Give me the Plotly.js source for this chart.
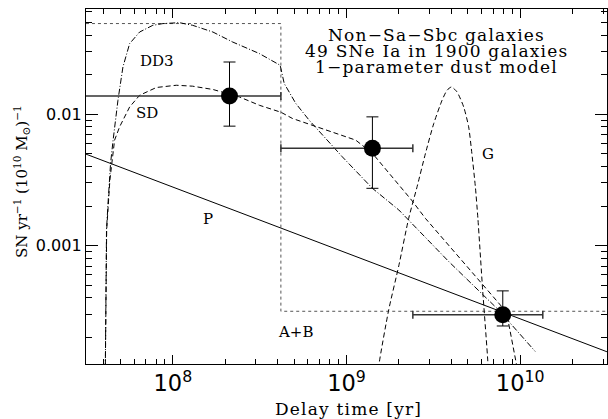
<!DOCTYPE html>
<html><head><meta charset="utf-8">
<script src="https://cdn.plot.ly/plotly-3.0.1.min.js"></script>
<style>body{margin:0;background:#fff}#chart{width:608px;height:419px}</style>
</head><body><div id="chart"></div>
<script>
// ---- data (delay time in yr, rate in SN/yr/1e10 Msun) ----
const boxX = [3.16e7, 4.19e8, 4.19e8, 3.2e10];
const boxY = [0.0489, 0.0489, 3.17e-4, 3.17e-4];

const pX = [3.16e7, 3.16e10];
const pY = [0.00497, 1.56e-4];

const sdX = [4.08e7, 4.11e7, 4.16e7, 4.34e7, 4.62e7, 4.94e7, 5.64e7, 6.44e7, 8.04e7, 1.047e8, 1.30e8, 1.70e8, 2.42e8, 3.15e8, 4.19e8, 4.89e8, 7.60e8, 1.13e9, 1.41e9, 2.37e9, 2.85e9, 7.83e9, 8.57e9, 9.91e9];
const sdY = [9.5e-5, 4.07e-4, 1.32e-3, 3.16e-3, 6.35e-3, 8.02e-3, 0.01135, 0.01393, 0.01596, 0.0166, 0.01633, 0.01542, 0.01352, 0.01169, 0.01035, 0.00927, 0.00757, 0.00635, 0.00504, 0.00222, 0.00161, 3.44e-4, 2.59e-4, 9.5e-5];

const dd3X = [4.08e7, 4.11e7, 4.15e7, 4.24e7, 4.38e7, 4.53e7, 4.83e7, 5.16e7, 5.64e7, 6.44e7, 7.67e7, 8.77e7, 1.09e8, 1.30e8, 1.70e8, 2.21e8, 3.15e8, 4.15e8, 4.38e8, 5.11e8, 6.10e8, 9.46e8, 1.41e9, 2.00e9, 3.88e9, 7.50e9, 1.22e10];
const dd3Y = [9.5e-5, 4.07e-4, 1.32e-3, 2.16e-3, 4.23e-3, 6.35e-3, 0.01276, 0.02286, 0.03443, 0.04217, 0.04742, 0.04887, 0.04966, 0.04742, 0.04217, 0.0354, 0.02891, 0.02355, 0.0171, 0.01205, 0.00899, 0.00474, 0.00273, 0.00187, 7.57e-4, 3.25e-4, 1.57e-4];

const gX = [1.52e9, 1.54e9, 1.75e9, 2.00e9, 2.28e9, 2.55e9, 2.85e9, 3.18e9, 3.55e9, 3.79e9, 4.02e9, 4.33e9, 4.73e9, 5.05e9, 5.27e9, 5.52e9, 5.71e9, 6.08e9, 6.52e9, 6.55e9];
const gY = [1.0e-4, 1.26e-4, 3.25e-4, 7.02e-4, 1.61e-3, 2.81e-3, 5.04e-3, 8.49e-3, 0.01276, 0.0152, 0.0161, 0.01476, 0.01135, 0.00802, 0.00504, 0.00281, 0.00161, 4.61e-4, 1.28e-4, 1.0e-4];

const obsX = [2.12e8, 1.41e9, 7.94e9];
const obsY = [0.01377, 0.0055, 2.98e-4];
const obsXlo = [1.0e7, 4.19e8, 2.41e9];
const obsXhi = [4.19e8, 2.41e9, 1.35e10];
const obsYlo = [0.00811, 0.00273, 2.45e-4];
const obsYhi = [0.02494, 0.00954, 4.53e-4];

const labels = ['DD3', 'SD', 'P', 'A+B', 'G'];
const titleLines = ['Non\u2212Sa\u2212Sbc galaxies', '49 SNe Ia in 1900 galaxies', '1\u2212parameter dust model'];
const xTitle = 'Delay time [yr]';
const yTitle = 'SN yr<sup>\u22121</sup> (10<sup>10</sup> M<sub>\u2299</sub>)<sup>\u22121</sup>';

// ---- chart ----
const serif = 'DejaVu Serif, Liberation Serif, serif';
const sans = 'DejaVu Sans, Liberation Sans, sans-serif';
const L = 86, R = 607, T = 9, B = 364;
const px = v => (v - L) / (R - L);
const py = v => (B - v) / (B - T);
const spaced = (t, s) => '<span style="letter-spacing:' + s + 'px">' + t + '</span>';

const traces = [
  {x: boxX, y: boxY, mode: 'lines', line: {color: '#555', width: 1, dash: 'dot'}},
  {x: pX, y: pY, mode: 'lines', line: {color: '#000', width: 1}},
  {x: sdX, y: sdY, mode: 'lines', line: {color: '#000', width: 1, dash: '5px,3px'}},
  {x: dd3X, y: dd3Y, mode: 'lines', line: {color: '#000', width: 1, dash: '6px,2px,1px,2px'}},
  {x: gX, y: gY, mode: 'lines', line: {color: '#000', width: 1, dash: '5px,3px', shape: 'spline', smoothing: 0.6}},
  {x: obsX, y: obsY, mode: 'markers', marker: {color: '#000', size: 17},
   error_x: {type: 'data', symmetric: false, array: obsX.map((v, i) => obsXhi[i] - v), arrayminus: obsX.map((v, i) => v - obsXlo[i]), color: '#333', thickness: 1.5, width: 4},
   error_y: {type: 'data', symmetric: false, array: obsY.map((v, i) => obsYhi[i] - v), arrayminus: obsY.map((v, i) => v - obsYlo[i]), color: '#000', thickness: 1, width: 6}}
];

const labPos = [[156.7, 61], [146.7, 113], [208, 219], [295, 332], [488, 154]];
const annotations = labels.map((t, i) => ({
  text: t, xref: 'paper', yref: 'paper', x: px(labPos[i][0]), y: py(labPos[i][1]),
  showarrow: false, font: {family: serif, size: 15, color: '#000'}, xanchor: 'center', yanchor: 'middle'
}));
const lineY = [35, 51, 67];
titleLines.forEach((t, i) => annotations.push({
  text: spaced(t, 1.2), xref: 'paper', yref: 'paper', x: px(436), y: py(lineY[i]),
  showarrow: false, font: {family: serif, size: 17, color: '#000'}, xanchor: 'center', yanchor: 'middle'
}));
annotations.push({
  text: yTitle, xref: 'paper', yref: 'paper', x: px(21), y: py(182), textangle: -90,
  showarrow: false, font: {family: serif, size: 15, color: '#000'}, xanchor: 'center', yanchor: 'middle'
});
annotations.push({
  text: spaced(xTitle, 1.2), xref: 'paper', yref: 'paper', x: px(348), y: py(409),
  showarrow: false, font: {family: serif, size: 17, color: '#000'}, xanchor: 'center', yanchor: 'middle'
});

const layout = {
  width: 608, height: 419,
  margin: {l: L, r: 608 - R, t: T, b: 419 - B},
  paper_bgcolor: '#fff', plot_bgcolor: '#fff',
  showlegend: false,
  xaxis: {type: 'log', range: [7.5, 10.5], dtick: 1, exponentformat: 'power',
    showgrid: false, zeroline: false, showline: true, linecolor: '#000', linewidth: 1.2, mirror: 'ticks',
    ticks: 'inside', ticklen: 9, tickcolor: '#000', tickwidth: 1,
    minor: {ticks: 'inside', ticklen: 5, tickcolor: '#000', tickwidth: 1, showgrid: false},
    tickfont: {family: sans, size: 18, color: '#000'}},
  yaxis: {type: 'log', range: [-3.9, -1.2], dtick: 1,
    showgrid: false, zeroline: false, showline: true, linecolor: '#000', linewidth: 1.2, mirror: 'ticks',
    ticks: 'inside', ticklen: 12, tickcolor: '#000', tickwidth: 1,
    minor: {ticks: 'inside', ticklen: 6, tickcolor: '#000', tickwidth: 1, showgrid: false},
    tickfont: {family: sans, size: 16, color: '#000'}},
  annotations: annotations
};

Plotly.newPlot('chart', traces, layout, {displayModeBar: false, staticPlot: true});
</script></body></html>
